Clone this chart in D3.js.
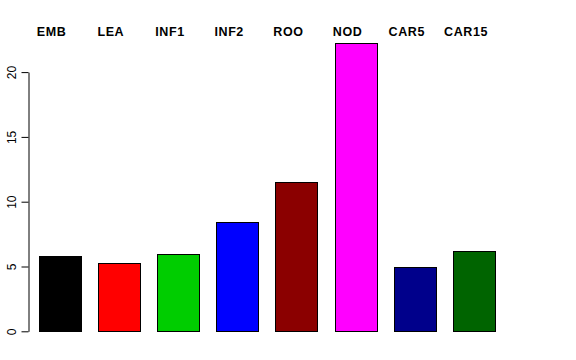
<!DOCTYPE html>
<html>
<head>
<meta charset="utf-8">
<script src="https://cdn.jsdelivr.net/npm/d3@7"></script>
<style>
  body { margin: 0; background: #fff; }
  text { font-family: "Liberation Sans", Arial, Helvetica, sans-serif; }
</style>
</head>
<body>
<div id="chart"></div>
<script>
// dados
var categorias = ["EMB", "LEA", "INF1", "INF2", "ROO", "NOD", "CAR5", "CAR15"];
var valores = [5.79, 5.25, 5.94, 8.41, 11.54, 22.22, 4.98, 6.2];
var cores = ["#000000", "#FF0000", "#00CD00", "#0000FF", "#8B0000", "#FF00FF", "#00008B", "#006400"];
var yTicks = [0, 5, 10, 15, 20];

var width = 576, height = 360;

var svg = d3.select("#chart").append("svg")
    .attr("width", width)
    .attr("height", height);

var x = d3.scaleBand()
    .domain(categorias)
    .range([30, 30 + 8 * 59.2])
    .paddingInner(0.29)
    .paddingOuter(0.145);

var y = d3.scaleLinear()
    .domain([0, 20])
    .range([331.3, 72.1]);

// barras
svg.append("g")
    .selectAll("rect")
    .data(valores)
    .enter().append("rect")
    .attr("x", function(d, i) { return Math.round(x(categorias[i])) + 0.5; })
    .attr("y", function(d) { return Math.round(y(d)) + 0.5; })
    .attr("width", Math.round(x.bandwidth()))
    .attr("height", function(d) { return Math.round(y(0)) - Math.round(y(d)); })
    .attr("fill", function(d, i) { return cores[i]; })
    .attr("stroke", "#000")
    .attr("stroke-width", 1);

// eixo y
var eixo = svg.append("g")
    .attr("transform", "translate(28.5,0)")
    .call(d3.axisLeft(y).tickValues(yTicks).tickSize(7).tickSizeOuter(0));

eixo.select(".domain").attr("stroke", "#000");
eixo.selectAll(".tick line").attr("stroke", "#000");
eixo.selectAll(".tick text")
    .attr("x", null)
    .attr("dy", null)
    .attr("transform", "translate(-13,0) rotate(-90)")
    .attr("text-anchor", "middle")
    .attr("font-size", 12)
    .attr("fill", "#000");

// rotulos no topo
svg.append("g")
    .selectAll("text")
    .data(categorias)
    .enter().append("text")
    .attr("x", function(d) { return x(d) + x.bandwidth() / 2 - 8; })
    .attr("y", 36)
    .attr("text-anchor", "middle")
    .attr("font-size", 12.5)
    .attr("letter-spacing", 0.6)
    .attr("font-weight", "bold")
    .attr("fill", "#000")
    .text(function(d) { return d; });
</script>
</body>
</html>
